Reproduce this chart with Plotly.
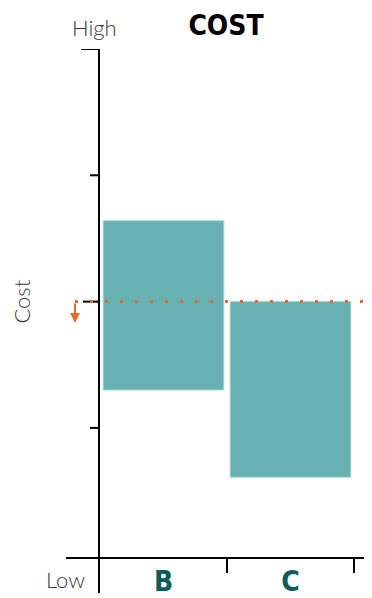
import plotly.graph_objects as go

# data
categories = ["B", "C"]
bar_low = [1.30, 0.61]
bar_high = [2.64, 2.00]
reference_level = 2.0
y_ticks = [1, 2, 3, 4]

bar_color = "#67b1b3"
label_color = "#0b5b5f"
orange = "#e8692e"
condensed = "Liberation Sans Narrow, DejaVu Sans Condensed, Arial Narrow, sans-serif"
light = "Lato, Open Sans, sans-serif"

x_pos = list(range(len(categories)))

# the page body keeps its 8px margin, so the figure starts at (8, 8)
W, H = 364, 590
plot_w, plot_h = 273, 509

fig = go.Figure()
fig.add_trace(
    go.Bar(
        x=x_pos,
        y=[h - l for h, l in zip(bar_high, bar_low)],
        base=bar_low,
        width=0.95,
        marker=dict(color=bar_color, line=dict(color="#a9d3d4", width=1)),
        hoverinfo="skip",
    )
)

# dotted reference line
fig.add_shape(
    type="line", xref="paper", yref="y",
    x0=-24 / plot_w, x1=1.0, y0=reference_level, y1=reference_level,
    line=dict(color=orange, width=3, dash="3px,12px"),
    layer="above",
)

# axis lines (extend past the plotting area)
fig.add_shape(type="line", xref="paper", yref="paper",
              x0=-33 / plot_w, x1=1.0, y0=0, y1=0,
              line=dict(color="black", width=2))
fig.add_shape(type="line", xref="paper", yref="paper",
              x0=0, x1=0, y0=1.0, y1=-35 / plot_h,
              line=dict(color="black", width=2))

# y ticks (top and middle are longer)
for v in y_ticks:
    length = 18 if v == 4 else (16 if v == 2 else 9)
    fig.add_shape(type="line", xref="paper", yref="y",
                  x0=-length / plot_w, x1=0, y0=v, y1=v,
                  line=dict(color="black", width=2), layer="below")

# x ticks between categories
for xv in [p + 0.5 for p in x_pos]:
    fig.add_shape(type="line", xref="x", yref="paper",
                  x0=xv, x1=xv, y0=0, y1=-15 / plot_h,
                  line=dict(color="black", width=2))

# downward arrows
fig.add_annotation(
    xref="paper", yref="y", x=-24 / plot_w, y=reference_level - 0.17,
    ax=0, ay=-21, text="", showarrow=True,
    arrowhead=2, arrowsize=1, arrowwidth=2, arrowcolor=orange,
)
fig.add_annotation(
    xref="paper", yref="y", x=1.0 - 2 / plot_w, y=reference_level - 0.14,
    ax=0, ay=-14, text="", showarrow=True,
    arrowhead=2, arrowsize=1, arrowwidth=2, arrowcolor=orange,
)

# axis text
axis_font = dict(family=light, size=22, color="#3a3a3a", weight=300)
fig.add_annotation(text="High", xref="paper", yref="paper", x=-5 / plot_w, y=1.0,
                   xanchor="center", yanchor="middle", yshift=22, showarrow=False,
                   font=axis_font)
fig.add_annotation(text="Low", xref="paper", yref="paper", x=-34 / plot_w, y=0,
                   xanchor="center", yanchor="middle", yshift=-21, showarrow=False,
                   font=axis_font)
fig.add_annotation(text="Cost", xref="paper", yref="y", x=-77 / plot_w, y=reference_level,
                   xanchor="center", yanchor="middle",
                   textangle=-90, showarrow=False,
                   font=axis_font)

fig.update_layout(
    width=W,
    height=H,
    margin=dict(l=91, r=0, t=41, b=H - 41 - plot_h),
    plot_bgcolor="white",
    paper_bgcolor="white",
    showlegend=False,
    title=dict(
        text="<b>COST</b>", x=(226 - 8) / W, xanchor="center", xref="container",
        y=1 - 17 / H, yanchor="middle",
        font=dict(family=condensed, size=28, color="black"),
    ),
    xaxis=dict(
        range=[-0.508, 1.642],
        tickvals=x_pos,
        ticktext=[f"<b>{c}</b>" for c in categories],
        ticks="",
        showline=False,
        showgrid=False,
        zeroline=False,
        automargin=False,
        ticklabelstandoff=4,
        tickfont=dict(family=condensed, size=28, color=label_color),
    ),
    yaxis=dict(
        range=[-0.03, 4.0],
        showticklabels=False,
        ticks="",
        showline=False,
        showgrid=False,
        zeroline=False,
        automargin=False,
    ),
)

fig.write_html("out.html")
